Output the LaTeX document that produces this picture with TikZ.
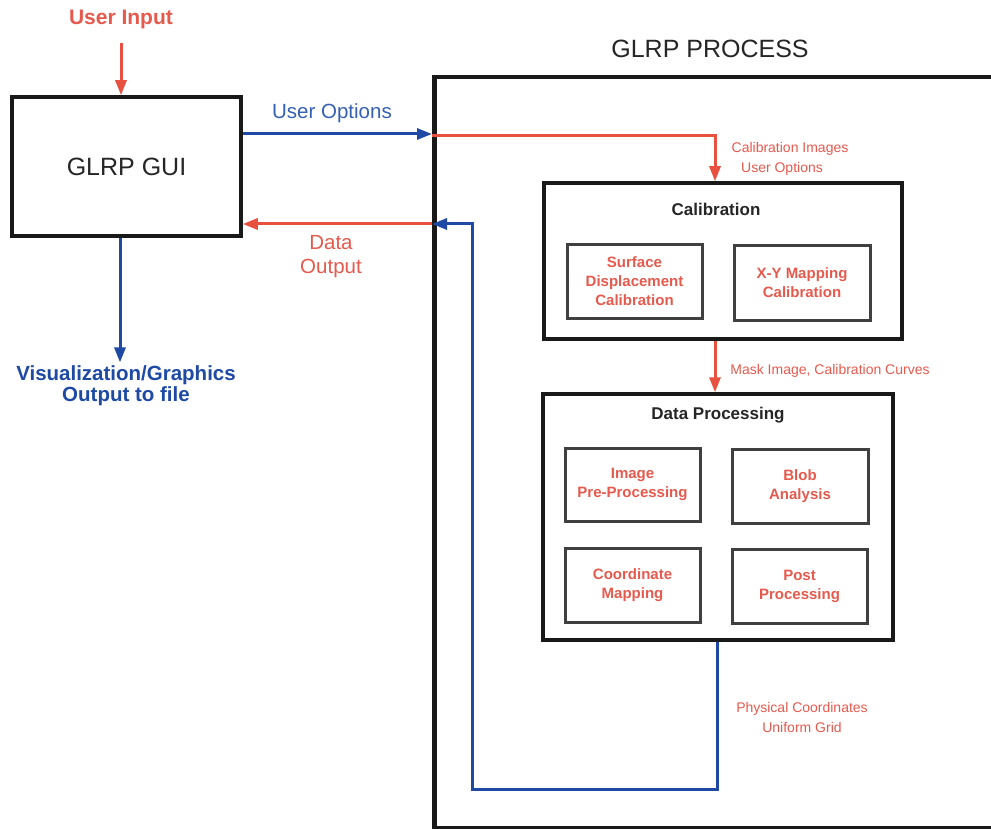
\documentclass[tikz,border=0pt]{standalone}
\usepackage{fontspec}
\setmainfont{Liberation Sans}
\usetikzlibrary{arrows.meta,calc}
\definecolor{redln}{HTML}{E8503F}
\definecolor{redtx}{HTML}{E65A4E}
\definecolor{blueln}{HTML}{1E4AA6}
\definecolor{bluetx}{HTML}{3560B5}
\begin{document}
\begin{tikzpicture}[x=1pt,y=-1pt,
  bigbox/.style={draw=black!90,line width=3.5pt,fill=white,inner sep=0pt},
  subbox/.style={draw=black!75,line width=3pt,fill=white,inner sep=0pt,align=center,
     text=redtx,font=\fontsize{15}{19}\selectfont\bfseries},
  ttl/.style={font=\fontsize{17}{19}\selectfont\bfseries,text=black!85},
  small/.style={font=\fontsize{14}{20}\selectfont,text=redtx,align=center},
  redarr/.style={draw=redln,line width=3pt,-{Triangle[length=15pt,width=11pt]}},
  bluearr/.style={draw=blueln,line width=3pt,-{Triangle[length=15pt,width=11pt]}}]
\clip (0,0) rectangle (991,829);
\fill[white] (0,0) rectangle (991,829);

% outer process box
\node[bigbox,line width=4.5pt,minimum width=620pt,minimum height=751pt,anchor=north west] (outer) at (432,75) {};
\node[font=\fontsize{25}{27}\selectfont,text=black!85] (ptitle) at (710,49) {GLRP PROCESS};

% GUI
\node[bigbox,minimum width=229pt,minimum height=139pt,font=\fontsize{25}{28}\selectfont,text=black!85] (gui) at (126.5,166.5) {GLRP GUI};
\node[font=\fontsize{21}{24}\selectfont\bfseries,text=redtx] (uin) at (121,19) {User Input};
\node[font=\fontsize{20.5}{21}\selectfont\bfseries,text=blueln,align=center] (vis) at (126,386) {Visualization/Graphics\\Output to file};

% calibration
\node[bigbox,minimum width=358pt,minimum height=156pt] (cal) at (723,261) {};
\node[ttl] (caltitle) at (716,209) {Calibration};
\node[subbox,minimum width=135pt,minimum height=73pt] (sdc) at (634.5,281.5) {Surface\\Displacement\\Calibration};
\node[subbox,minimum width=136pt,minimum height=74pt] (xym) at (802,283) {X-Y Mapping\\Calibration};

% data processing
\node[bigbox,minimum width=350pt,minimum height=246pt] (dp) at (718,517) {};
\node[ttl] (dptitle) at (718,415) {Data Processing};
\node[subbox,minimum width=135pt,minimum height=73pt] (ipp) at (632.5,484.5) {Image\\Pre-Processing};
\node[subbox,minimum width=136pt,minimum height=74pt] (blob) at (800,486) {Blob\\Analysis};
\node[subbox,minimum width=135pt,minimum height=74pt] (cm) at (632.5,585) {Coordinate\\Mapping};
\node[subbox,minimum width=135pt,minimum height=74pt] (pp) at (799.5,586) {Post\\Processing};

% labels
\node[font=\fontsize{20.5}{23}\selectfont,text=bluetx] (uolab) at (332,113) {User Options};
\node[font=\fontsize{20.5}{24}\selectfont,text=redtx,align=center] (dolab) at (331,257) {Data\\Output};
\node[small] (cilab) at (790,159) {Calibration Images\\User Options\hspace*{16pt}};
\node[small] (mask) at (830,371) {Mask Image, Calibration Curves};
\node[small] (phys) at (802,717) {Physical Coordinates\\Uniform Grid};

% helper coordinates
\coordinate (loopc) at (472,789);

% connectors
\draw[redarr] (uin.south |- 0,43) -- (uin.south |- gui.north);
\draw[bluearr] ([yshift=32.5pt]gui.east) -- ([yshift=32.5pt]gui.east -| outer.west);
\draw[redarr] ([yshift=30.5pt]gui.east -| outer.west) -| ([xshift=-8pt]cal.north);
\draw[redarr] ([xshift=-8pt]cal.south) -- ([xshift=-8pt]cal.south |- dp.north);
\draw[bluearr] ([xshift=-1pt]dp.south) |- (loopc) |- ([yshift=-57.5pt]gui.east -| outer.west);
\draw[redarr] ([yshift=-57.5pt]gui.east -| outer.west) -- ([yshift=-57.5pt]gui.east);
\draw[bluearr] ([xshift=-6.5pt]gui.south) -- ([xshift=-6.5pt]gui.south |- vis.north);
\end{tikzpicture}
\end{document}
